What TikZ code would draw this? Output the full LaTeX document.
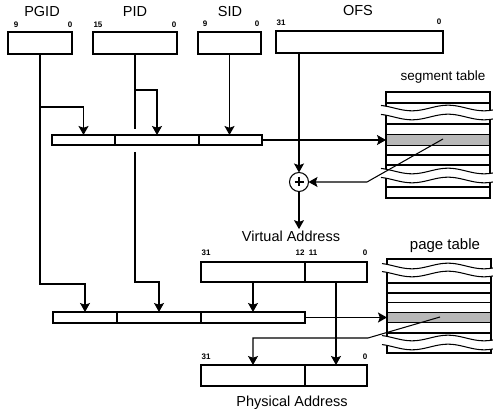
\documentclass[tikz,border=0pt]{standalone}
\usepackage{fontspec}
\setmainfont{Liberation Sans}
\usetikzlibrary{arrows.meta}
\def\wv{2.8*sin(5*(\x-394))}
\begin{document}
\begin{tikzpicture}[x=1pt,y=-1pt,line width=1.05pt,
  lbl/.style={inner sep=1pt,font=\fontsize{14.5}{16}\selectfont},
  bitlbl/.style={inner sep=0pt,font=\bfseries\fontsize{8}{9}\selectfont},
  box/.style={draw,inner sep=0pt,outer sep=0pt},
  selrow/.style={box,fill=black!28},
  wavesamp/.style={samples=60,smooth},
  band/.style={white,line width=8.2pt},
  arr/.style={-{Stealth[length=9pt,width=10pt,inset=1.8pt]}}]
\useasboundingbox (0,0) rectangle (493,411);

% top registers
\node[box,minimum width=64,minimum height=22] (pgid) at (40,43) {};
\node[box,minimum width=84,minimum height=22] (pid) at (135,43) {};
\node[box,minimum width=63,minimum height=22] (sid) at (229.5,43) {};
\node[box,minimum width=167,minimum height=22] (ofs) at (359.5,42) {};
\node[lbl] (lpgid) at (42,12) {PGID};
\node[lbl] (lpid) at (135,12) {PID};
\node[lbl] (lsid) at (230,12) {SID};
\node[lbl] (lofs) at (358,11) {OFS};
\node[bitlbl] (b1) at (16,25) {9};
\node[bitlbl] (b2) at (70,25) {0};
\node[bitlbl] (b3) at (98,25) {15};
\node[bitlbl] (b4) at (174,25) {0};
\node[bitlbl] (b5) at (205,24) {9};
\node[bitlbl] (b6) at (257,24) {0};
\node[bitlbl] (b7) at (281,23) {31};
\node[bitlbl] (b8) at (439,22) {0};

% row 1
\node[box,minimum width=63,minimum height=10] (r1a) at (83.5,140) {};
\node[box,minimum width=84,minimum height=10] (r1b) at (157,140) {};
\node[box,minimum width=63,minimum height=10] (r1c) at (230.5,140) {};

% row 2
\node[box,minimum width=64,minimum height=11] (r2a) at (85,317.5) {};
\node[box,minimum width=84,minimum height=11] (r2b) at (159,317.5) {};
\node[box,minimum width=104,minimum height=11] (r2c) at (253,317.5) {};

% virtual address
\node[box,minimum width=104,minimum height=20] (vahi) at (253,272) {};
\node[box,minimum width=62,minimum height=20] (valo) at (336,272) {};
\node[lbl] (valbl) at (291,236) {Virtual Address};
\node[bitlbl] (v1) at (206,253) {31};
\node[bitlbl] (v2) at (300,253) {12};
\node[bitlbl] (v3) at (313,253) {11};
\node[bitlbl] (v4) at (365,253) {0};

% physical address
\node[box,minimum width=104,minimum height=21] (pahi) at (253,375.5) {};
\node[box,minimum width=62,minimum height=21] (palo) at (336,375.5) {};
\node[lbl] (palbl) at (292,403) {Physical Address};
\node[bitlbl] (p1) at (206,357) {31};
\node[bitlbl] (p2) at (365,357) {0};

% adder
\node[draw,circle,minimum size=19,inner sep=0pt,outer sep=0pt] (plus) at (299,182) {};
\draw (plus.center) +(-4.5,0) -- +(4.5,0) (plus.center) +(0,-4.5) -- +(0,4.5);

% segment table
\node[font=\fontsize{13.5}{15}\selectfont,inner sep=1pt] (segtitle) at (443,77) {segment table};
\node[box,minimum width=104,minimum height=106] (segtab) at (438,145) {};
\node[selrow,minimum width=104,minimum height=11] (segsel) at (438,140) {};
\foreach \yy in {103,124,155,165,187} \draw (386,\yy) -- (490,\yy);
\draw[band] plot[domain=381:493,wavesamp] (\x,{112.5+\wv});
\draw plot[domain=381:493,wavesamp] (\x,{108+\wv});
\draw plot[domain=381:493,wavesamp] (\x,{117+\wv});
\draw[band] plot[domain=381:493,wavesamp] (\x,{175.5+\wv});
\draw plot[domain=381:493,wavesamp] (\x,{171+\wv});
\draw plot[domain=381:493,wavesamp] (\x,{180+\wv});

% page table
\node[font=\fontsize{15}{17}\selectfont,inner sep=1pt] (pgtitle) at (445,246) {page table};
\node[box,minimum width=104,minimum height=94] (ptab) at (439,306) {};
\node[selrow,minimum width=104,minimum height=10] (pgsel) at (439,317.5) {};
\foreach \yy in {283,293,302.5,333} \draw (387,\yy) -- (491,\yy);
\draw[band] plot[domain=382:493,wavesamp] (\x,{270+\wv});
\draw plot[domain=382:493,wavesamp] (\x,{266+\wv});
\draw plot[domain=382:493,wavesamp] (\x,{274+\wv});
\draw[band] plot[domain=382:493,wavesamp] (\x,{342.5+\wv});
\draw plot[domain=382:493,wavesamp] (\x,{338+\wv});
\draw plot[domain=382:493,wavesamp] (\x,{347+\wv});

% helper coordinates
\coordinate (yPG1) at (0,107);
\coordinate (yPID1) at (0,90);
\coordinate (gapT) at (0,129);
\coordinate (gapB) at (0,152);
\coordinate (yPG2) at (0,284);
\coordinate (yPID2) at (0,282);
\coordinate (segsrc) at (443,139);
\coordinate (segbend) at (367,182);
\coordinate (pgsrc) at (440,317);
\coordinate (pgbend) at (368,338);

% connectors
\draw[arr] (pgid.south) |- (r2a.north |- yPG2) -- (r2a.north);
\draw[arr] (pgid.south |- yPG1) -| (r1a.north);
\draw (pid.south) -- (pid.south |- gapT);
\draw[arr] (pid.south |- yPID1) -| (r1b.north);
\draw[arr] (pid.south |- gapB) |- (r2b.north |- yPID2) -- (r2b.north);
\draw[arr] (sid.south) -- (sid.south |- r1c.north);
\draw[arr] (r1c.east) -- (segsel.west);
\draw[arr] (plus.north |- ofs.south) -- (plus.north);
\draw[arr] (segsrc) -- (segbend) -- (plus.east);
\draw[arr] (plus.south) -- (plus.south |- valbl.north);
\draw[arr] (vahi.south) -- (r2c.north);
\draw[arr] (valo.south) -- (palo.north);
\draw[arr] (r2c.east) -- (pgsel.west);
\draw[arr] (pgsrc) -- (pgbend) -| (pahi.north);
\end{tikzpicture}
\end{document}
